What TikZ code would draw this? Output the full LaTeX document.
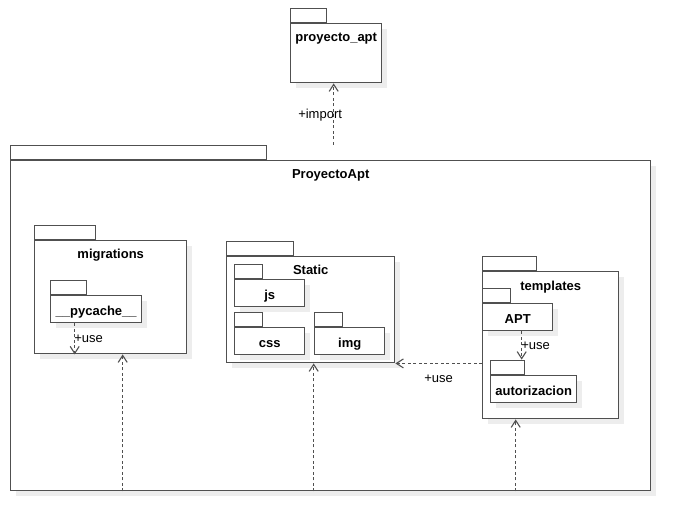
\documentclass[tikz,border=0pt]{standalone}
\usepackage{fontspec}
\setmainfont{Liberation Sans}
\usetikzlibrary{positioning,shadows,arrows.meta}
\definecolor{pkgline}{RGB}{80,80,80}
\tikzset{
  pkgbox/.style={draw=pkgline,fill=white,line width=1.4pt,inner sep=0pt,
    font=\bfseries\fontsize{13}{15}\selectfont,text height=12pt,text depth=0pt,
    drop shadow={shadow xshift=5pt,shadow yshift=-5pt,fill=black!7,opacity=1}},
  pkgtab/.style={draw=pkgline,fill=white,line width=1.4pt,inner sep=0pt,minimum height=14pt},
  pkgname/.style={inner sep=0pt,anchor=base,font=\bfseries\fontsize{13}{15}\selectfont},
  dep/.style={draw=pkgline,line width=1.1pt,dash pattern=on 3pt off 2.5pt,
    -{Straight Barb[length=7pt,width=9pt,line width=1.1pt]}},
  deplabel/.style={inner sep=0pt,anchor=base west,font=\fontsize{13}{15}\selectfont}
}
\begin{document}
\begin{tikzpicture}[x=1pt,y=-1pt]
  \useasboundingbox (0,0) rectangle (691,531);
  % proyecto_apt
  \node[pkgbox,anchor=north west,minimum width=91pt,minimum height=59pt] (pa) at (290,23) {};
  \node[pkgtab,minimum width=36pt,above right=0pt of pa.north west] (patab) {};
  \node[pkgname] at ([yshift=-18.5pt]pa.north) {proyecto\_apt};
  % ProyectoApt
  \node[pkgbox,anchor=north west,minimum width=640pt,minimum height=330pt] (proj) at (10,160) {};
  \node[pkgtab,minimum width=256pt,above right=0pt of proj.north west] (projtab) {};
  \node[pkgname] at ([yshift=-18pt]proj.north) {ProyectoApt};
  % migrations
  \node[pkgbox,anchor=north west,minimum width=152pt,minimum height=113pt] (mig) at (34,240) {};
  \node[pkgtab,minimum width=61pt,above right=0pt of mig.north west] (migtab) {};
  \node[pkgname] at ([yshift=-18pt]mig.north) {migrations};
  \node[pkgbox,anchor=north west,minimum width=91pt,minimum height=27pt] (pyc) at (50,295) {\_\_pycache\_\_};
  \node[pkgtab,minimum width=36pt,above right=0pt of pyc.north west] (pyctab) {};
  % Static
  \node[pkgbox,anchor=north west,minimum width=168pt,minimum height=106pt] (stat) at (226,256) {};
  \node[pkgtab,minimum width=67pt,above right=0pt of stat.north west] (stattab) {};
  \node[pkgname] at ([yshift=-18pt]stat.north) {Static};
  \node[pkgbox,anchor=north west,minimum width=70pt,minimum height=27pt] (js) at (234,279) {js};
  \node[pkgtab,minimum width=28pt,above right=0pt of js.north west] (jstab) {};
  \node[pkgbox,anchor=north west,minimum width=70pt,minimum height=27pt] (css) at (234,327) {css};
  \node[pkgtab,minimum width=28pt,above right=0pt of css.north west] (csstab) {};
  \node[pkgbox,anchor=north west,minimum width=70pt,minimum height=27pt] (img) at (314,327) {img};
  \node[pkgtab,minimum width=28pt,above right=0pt of img.north west] (imgtab) {};
  % templates
  \node[pkgbox,anchor=north west,minimum width=136pt,minimum height=147pt] (tmpl) at (482,271) {};
  \node[pkgtab,minimum width=54pt,above right=0pt of tmpl.north west] (tmpltab) {};
  \node[pkgname] at ([yshift=-19pt]tmpl.north) {templates};
  \node[pkgbox,anchor=north west,minimum width=70pt,minimum height=27pt] (apt) at (482,303) {APT};
  \node[pkgtab,minimum width=28pt,above right=0pt of apt.north west] (apttab) {};
  \node[pkgbox,anchor=north west,minimum width=86pt,minimum height=27pt] (auth) at (490,375) {autorizacion};
  \node[pkgtab,minimum width=34pt,above right=0pt of auth.north west] (authtab) {};
  % dependencies
  \draw[dep] ([xshift=-2.5pt]pa.south |- projtab.north) -- ([xshift=-2.5pt]pa.south)
    node[deplabel,pos=0.5,xshift=-36pt,yshift=-4pt] {+import};
  \draw[dep] ([xshift=-21.5pt]pyc.south) -- ([xshift=-21.5pt]pyc.south |- mig.south)
    node[deplabel,pos=0.5,xshift=-1pt,yshift=-4pt] {+use};
  \draw[dep] ([xshift=4pt]apt.south) -- ([xshift=4pt]apt.south |- authtab.north)
    node[deplabel,pos=0.5,xshift=-1pt,yshift=-4pt] {+use};
  \draw[dep] (stat.south east -| tmpl.west) -- (stat.south east)
    node[deplabel,pos=0.5,xshift=-15pt,yshift=-19pt] {+use};
  \draw[dep] ([xshift=12pt]mig.south |- proj.south) -- ([xshift=12pt]mig.south);
  \draw[dep] ([xshift=3pt]stat.south |- proj.south) -- ([xshift=3pt]stat.south);
  \draw[dep] ([xshift=-35pt]tmpl.south |- proj.south) -- ([xshift=-35pt]tmpl.south);
\end{tikzpicture}
\end{document}
